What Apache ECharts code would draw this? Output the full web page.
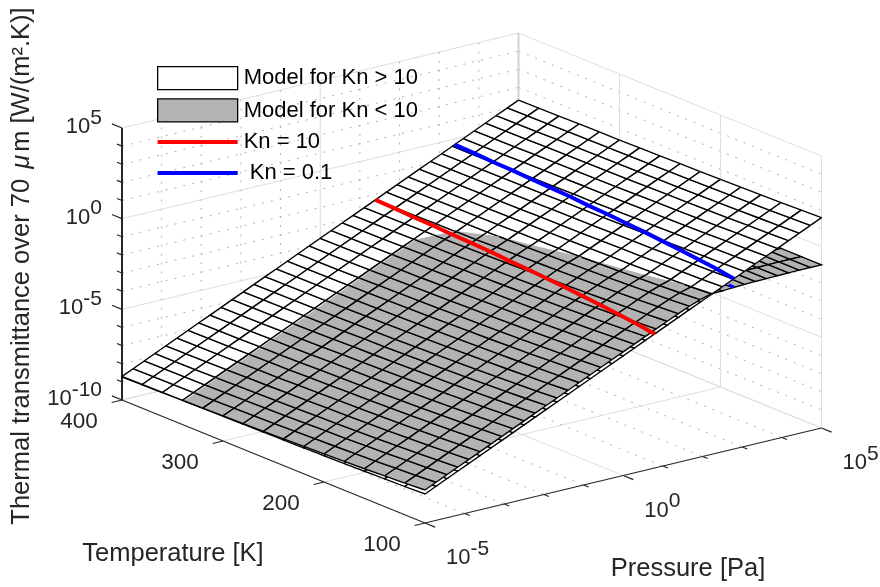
<!DOCTYPE html>
<html><head><meta charset="utf-8">
<style>html,body{margin:0;padding:0;background:#fff}#c{width:880px;height:587px}</style>
<script src="https://cdn.jsdelivr.net/npm/echarts@6/dist/echarts.min.js"></script>
</head><body><div id="c"></div>
<script>
// ---------- data ----------
const temperatures=[400,380,360,340,320,300,280,260,240,220,200,180,160,140,120,100];
const logPressure=[-5,-4.72,-4.44,-4.17,-3.89,-3.61,-3.33,-3.06,-2.78,-2.5,-2.22,-1.94,-1.67,-1.39,-1.11,-.83,-.56,-.28,0,.28,.56,.83,1.11,1.39,1.67,1.94,2.22,2.5,2.78,3.06,3.33,3.61,3.89,4.17,4.44,4.72,5];
// log10 of transmittance of the upper (Kn > 10) surface: one row per temperature, one column per pressure
const whiteLogZ=[
[-8.7,-8.42,-8.14,-7.87,-7.59,-7.31,-7.03,-6.76,-6.48,-6.2,-5.92,-5.64,-5.37,-5.09,-4.81,-4.53,-4.26,-3.98,-3.7,-3.42,-3.14,-2.87,-2.59,-2.31,-2.03,-1.76,-1.48,-1.2,-.92,-.64,-.37,-.09,.19,.47,.74,1.02,1.3],
[-8.69,-8.41,-8.13,-7.86,-7.58,-7.3,-7.02,-6.75,-6.47,-6.19,-5.91,-5.63,-5.36,-5.08,-4.8,-4.52,-4.25,-3.97,-3.69,-3.41,-3.13,-2.86,-2.58,-2.3,-2.02,-1.75,-1.47,-1.19,-.91,-.63,-.36,-.08,.2,.48,.75,1.03,1.31],
[-8.68,-8.4,-8.12,-7.85,-7.57,-7.29,-7.01,-6.74,-6.46,-6.18,-5.9,-5.62,-5.35,-5.07,-4.79,-4.51,-4.24,-3.96,-3.68,-3.4,-3.12,-2.85,-2.57,-2.29,-2.01,-1.74,-1.46,-1.18,-.9,-.62,-.35,-.07,.21,.49,.76,1.04,1.32],
[-8.66,-8.38,-8.1,-7.83,-7.55,-7.27,-6.99,-6.72,-6.44,-6.16,-5.88,-5.6,-5.33,-5.05,-4.77,-4.49,-4.22,-3.94,-3.66,-3.38,-3.1,-2.83,-2.55,-2.27,-1.99,-1.72,-1.44,-1.16,-.88,-.6,-.33,-.05,.23,.51,.78,1.06,1.34],
[-8.65,-8.37,-8.09,-7.82,-7.54,-7.26,-6.98,-6.71,-6.43,-6.15,-5.87,-5.59,-5.32,-5.04,-4.76,-4.48,-4.21,-3.93,-3.65,-3.37,-3.09,-2.82,-2.54,-2.26,-1.98,-1.71,-1.43,-1.15,-.87,-.59,-.32,-.04,.24,.52,.79,1.07,1.35],
[-8.64,-8.36,-8.08,-7.81,-7.53,-7.25,-6.97,-6.7,-6.42,-6.14,-5.86,-5.58,-5.31,-5.03,-4.75,-4.47,-4.2,-3.92,-3.64,-3.36,-3.08,-2.81,-2.53,-2.25,-1.97,-1.7,-1.42,-1.14,-.86,-.58,-.31,-.03,.25,.53,.8,1.08,1.36],
[-8.62,-8.34,-8.06,-7.79,-7.51,-7.23,-6.95,-6.68,-6.4,-6.12,-5.84,-5.56,-5.29,-5.01,-4.73,-4.45,-4.18,-3.9,-3.62,-3.34,-3.06,-2.79,-2.51,-2.23,-1.95,-1.68,-1.4,-1.12,-.84,-.56,-.29,-.01,.27,.55,.82,1.1,1.38],
[-8.61,-8.33,-8.05,-7.78,-7.5,-7.22,-6.94,-6.67,-6.39,-6.11,-5.83,-5.55,-5.28,-5,-4.72,-4.44,-4.17,-3.89,-3.61,-3.33,-3.05,-2.78,-2.5,-2.22,-1.94,-1.67,-1.39,-1.11,-.83,-.55,-.28,0,.28,.56,.83,1.11,1.39],
[-8.59,-8.31,-8.03,-7.76,-7.48,-7.2,-6.92,-6.65,-6.37,-6.09,-5.81,-5.53,-5.26,-4.98,-4.7,-4.42,-4.15,-3.87,-3.59,-3.31,-3.03,-2.76,-2.48,-2.2,-1.92,-1.65,-1.37,-1.09,-.81,-.53,-.26,.02,.3,.58,.85,1.13,1.41],
[-8.57,-8.29,-8.01,-7.74,-7.46,-7.18,-6.9,-6.63,-6.35,-6.07,-5.79,-5.51,-5.24,-4.96,-4.68,-4.4,-4.13,-3.85,-3.57,-3.29,-3.01,-2.74,-2.46,-2.18,-1.9,-1.63,-1.35,-1.07,-.79,-.51,-.24,.04,.32,.6,.87,1.15,1.43],
[-8.55,-8.27,-7.99,-7.72,-7.44,-7.16,-6.88,-6.61,-6.33,-6.05,-5.77,-5.49,-5.22,-4.94,-4.66,-4.38,-4.11,-3.83,-3.55,-3.27,-2.99,-2.72,-2.44,-2.16,-1.88,-1.61,-1.33,-1.05,-.77,-.49,-.22,.06,.34,.62,.89,1.17,1.45],
[-8.53,-8.25,-7.97,-7.7,-7.42,-7.14,-6.86,-6.59,-6.31,-6.03,-5.75,-5.47,-5.2,-4.92,-4.64,-4.36,-4.09,-3.81,-3.53,-3.25,-2.97,-2.7,-2.42,-2.14,-1.86,-1.59,-1.31,-1.03,-.75,-.47,-.2,.08,.36,.64,.91,1.19,1.47],
[-8.5,-8.22,-7.94,-7.67,-7.39,-7.11,-6.83,-6.56,-6.28,-6,-5.72,-5.44,-5.17,-4.89,-4.61,-4.33,-4.06,-3.78,-3.5,-3.22,-2.94,-2.67,-2.39,-2.11,-1.83,-1.56,-1.28,-1,-.72,-.44,-.17,.11,.39,.67,.94,1.22,1.5],
[-8.47,-8.19,-7.91,-7.64,-7.36,-7.08,-6.8,-6.53,-6.25,-5.97,-5.69,-5.41,-5.14,-4.86,-4.58,-4.3,-4.03,-3.75,-3.47,-3.19,-2.91,-2.64,-2.36,-2.08,-1.8,-1.53,-1.25,-.97,-.69,-.41,-.14,.14,.42,.7,.97,1.25,1.53],
[-8.44,-8.16,-7.88,-7.61,-7.33,-7.05,-6.77,-6.5,-6.22,-5.94,-5.66,-5.38,-5.11,-4.83,-4.55,-4.27,-4,-3.72,-3.44,-3.16,-2.88,-2.61,-2.33,-2.05,-1.77,-1.5,-1.22,-.94,-.66,-.38,-.11,.17,.45,.73,1,1.28,1.56],
[-8.4,-8.12,-7.84,-7.57,-7.29,-7.01,-6.73,-6.46,-6.18,-5.9,-5.62,-5.34,-5.07,-4.79,-4.51,-4.23,-3.96,-3.68,-3.4,-3.12,-2.84,-2.57,-2.29,-2.01,-1.73,-1.46,-1.18,-.9,-.62,-.34,-.07,.21,.49,.77,1.04,1.32,1.6]];
// lower model minus upper model, in decades. Below 10^1 Pa the two surfaces run parallel: one value per temperature.
const grayLift=[-.03,-.02,-.01,-.001,.011,.023,.035,.048,.063,.078,.095,.115,.135,.16,.19,.22];
// from 10^1 Pa upward: one row per temperature, one column per pressure in highPressure
const highPressure=[1.11,1.39,1.67,1.94,2.22,2.5,2.78,3.06,3.33,3.61,3.89,4.17,4.44,4.72,5];
const grayGapHigh=[
[-.035,-.04,-.06,-.11,-.21,-.48,-.72,-.425,-.675,-.94,-1.21,-1.48,-1.74,-2.02,-2.3],
[-.025,-.03,-.05,-.1,-.2,-.47,-.71,-.435,-.685,-.95,-1.22,-1.49,-1.75,-2.03,-2.31],
[-.015,-.02,-.04,-.09,-.19,-.46,-.7,-.445,-.695,-.96,-1.23,-1.5,-1.76,-2.04,-2.32],
[-.006,-.011,-.031,-.081,-.181,-.451,-.691,-.465,-.715,-.98,-1.25,-1.52,-1.78,-2.06,-2.34],
[.006,.001,-.019,-.069,-.169,-.439,-.679,-.475,-.725,-.99,-1.26,-1.53,-1.79,-2.07,-2.35],
[.018,.013,-.007,-.057,-.157,-.427,-.667,-.485,-.735,-1,-1.27,-1.54,-1.8,-2.08,-2.36],
[.03,.025,.005,-.045,-.145,-.415,-.655,-.505,-.755,-1.02,-1.29,-1.56,-1.82,-2.1,-2.38],
[.043,.038,.018,-.032,-.132,-.402,-.642,-.515,-.765,-1.03,-1.3,-1.57,-1.83,-2.11,-2.39],
[.058,.053,.033,-.017,-.117,-.387,-.627,-.535,-.785,-1.05,-1.32,-1.59,-1.85,-2.13,-2.41],
[.073,.068,.048,-.002,-.102,-.372,-.612,-.555,-.805,-1.07,-1.34,-1.61,-1.87,-2.15,-2.43],
[.09,.085,.065,.015,-.085,-.355,-.595,-.575,-.825,-1.09,-1.36,-1.63,-1.89,-2.17,-2.45],
[.11,.105,.085,.035,-.065,-.335,-.575,-.595,-.845,-1.11,-1.38,-1.65,-1.91,-2.19,-2.47],
[.13,.125,.105,.055,-.045,-.315,-.555,-.625,-.875,-1.14,-1.41,-1.68,-1.94,-2.22,-2.5],
[.155,.15,.13,.08,-.02,-.29,-.53,-.655,-.905,-1.17,-1.44,-1.71,-1.97,-2.25,-2.53],
[.185,.18,.16,.11,.01,-.26,-.5,-.685,-.935,-1.2,-1.47,-1.74,-2,-2.28,-2.56],
[.215,.21,.19,.14,.04,-.23,-.47,-.725,-.975,-1.24,-1.51,-1.78,-2.04,-2.32,-2.6]];
const kn10LogP=[1.39,1.37,1.34,1.32,1.29,1.27,1.24,1.20,1.17,1.13,1.09,1.04,.99,.93,.87,.79];
const kn10LogZ=[-2.31,-2.32,-2.34,-2.34,-2.36,-2.37,-2.38,-2.41,-2.42,-2.44,-2.46,-2.49,-2.51,-2.54,-2.57,-2.61];
const kn01LogP=[3.39,3.37,3.34,3.32,3.29,3.27,3.24,3.20,3.17,3.13,3.09,3.04,2.99,2.93,2.87,2.79];
const kn01LogZ=[-.31,-.32,-.34,-.34,-.36,-.37,-.38,-.41,-.42,-.44,-.46,-.49,-.51,-.54,-.57,-.61];
// short piece of the Kn = 0.1 line seen on the lower surface, past the upper surface's edge
const kn01TailT=[106,100];
const kn01TailLogP=[2.81,2.79];
const kn01TailLogZ=[-1.09,-1.07];
const zMajor=[-10,-5,0,5];
const zDecades=[-9,-8,-7,-6,-4,-3,-2,-1,1,2,3,4];
const pMajor=[-5,0,5];
const pDecades=[-4,-3,-2,-1,1,2,3,4];
const tMajor=[400,300,200,100];
const LEGEND=['Model for Kn > 10','Model for Kn < 10','Kn = 10',' Kn = 0.1'];

// ---------- orthographic view of the box ----------
const view={ox:122,oy:400,px:396.5,py:-95,tx:303,ty:123,zh:272};
function project(lp,T,lz){
  const u=(lp+5)/10,v=(400-T)/300,w=(lz+10)/15;
  return [view.ox+u*view.px+v*view.tx, view.oy+u*view.py+v*view.ty-w*view.zh];
}
// ---------- frame: walls, floor, ticks ----------
const segs=[];
function seg(a,b,k){segs.push([a[0],a[1],b[0],b[1],k]);}
const G=0,D=1,A=2,Z=3,C=4;
zDecades.forEach(z=>{seg(project(-5,400,z),project(5,400,z),D);seg(project(5,400,z),project(5,100,z),D);});
pDecades.forEach(p=>{seg(project(p,400,-10),project(p,400,5),D);seg(project(p,400,-10),project(p,100,-10),D);});
zMajor.forEach(z=>{seg(project(-5,400,z),project(5,400,z),G);seg(project(5,400,z),project(5,100,z),G);});
pMajor.forEach(p=>{seg(project(p,400,-10),project(p,400,5),p===5?C:G);if(p!==-5)seg(project(p,400,-10),project(p,100,-10),G);});
tMajor.forEach(t=>{if(t!==400)seg(project(5,t,-10),project(5,t,5),G);if(t!==100)seg(project(-5,t,-10),project(5,t,-10),G);});
seg(project(-5,400,-10),project(-5,400,5),Z);
seg(project(-5,400,-10),project(-5,100,-10),A);
seg(project(-5,100,-10),project(5,100,-10),A);
zMajor.forEach(z=>seg(project(-5,400,z),project(-5,410,z),A));
zDecades.forEach(z=>seg(project(-5,400,z),project(-5,405,z),A));
tMajor.forEach(t=>seg(project(-5,t,-10),project(-5.26,t,-10),A));
pMajor.forEach(p=>seg(project(p,100,-10),project(p,90,-10),A));
pDecades.forEach(p=>seg(project(p,100,-10),project(p,95,-10),A));
const segStyle=[
 {stroke:'#dedede',lineWidth:1},
 {stroke:'#b0b0b0',lineWidth:1,lineDash:[2,7]},
 {stroke:'#262626',lineWidth:1.2},
 {stroke:'#262626',lineWidth:2},
 {stroke:'#d2d2d2',lineWidth:2}];
// ---------- surface cells ----------
const cells=[];
for(let i=0;i<temperatures.length-1;i++)for(let j=0;j<logPressure.length-1;j++)cells.push([i,j]);
const firstHigh=logPressure.indexOf(highPressure[0]);
function gap(i,j){return j<firstHigh?grayLift[i]:grayGapHigh[i][j-firstHigh];}
function surfZ(kind,i,j){return kind==='gray'?whiteLogZ[i][j]+gap(i,j):whiteLogZ[i][j];}
function corner(kind,i,j){return project(logPressure[j],temperatures[i],surfZ(kind,i,j));}
const FILL={white:'#ffffff',gray:'#b3b3b3'};
const MESH={stroke:'#000',lineWidth:1.35};
function cellCorners(i,j){return [[i,j],[i,j+1],[i+1,j+1],[i+1,j]];}
function lowerItem(kind){
  return function(params,api){
    const i=api.value(0),j=api.value(1);
    const ix=cellCorners(i,j);
    const ds=ix.map(c=>gap(c[0],c[1]));
    const under=kind==='white'?ds.some(d=>d>0):ds.some(d=>d<0);
    if(!under)return null;
    const pts=ix.map(c=>api.coord(corner(kind,c[0],c[1])));
    return {type:'polygon',shape:{points:pts},style:{fill:FILL[kind],stroke:'#000',lineWidth:1.35},silent:true};
  };
}
function upperItem(kind){
  const sign=kind==='gray'?1:-1;
  return function(params,api){
    const i=api.value(0),j=api.value(1);
    const ix=cellCorners(i,j);
    const ds=ix.map(c=>sign*gap(c[0],c[1]));
    if(ds.every(d=>d<=0))return null;
    const pts=ix.map(c=>api.coord(corner(kind,c[0],c[1])));
    const poly=[],children=[];
    for(let k=0;k<4;k++){
      const n=(k+1)%4,a=pts[k],b=pts[n],da=ds[k],db=ds[n];
      if(da>0)poly.push(a);
      let p=a,q=b,draw=da>0||db>0;
      if((da>0)!==(db>0)){
        const t=da/(da-db),m=[a[0]+t*(b[0]-a[0]),a[1]+t*(b[1]-a[1])];
        poly.push(m);
        if(da>0)q=m;else p=m;
      }
      if(draw)children.push({type:'line',shape:{x1:p[0],y1:p[1],x2:q[0],y2:q[1]},style:MESH,silent:true});
    }
    children.unshift({type:'polygon',shape:{points:poly},style:{fill:FILL[kind]},silent:true});
    return {type:'group',children:children};
  };
}
// ---------- text ----------
const FONT='"Liberation Sans",Arial,sans-serif';
const TXT='#262626';
const powRich={a:{fontSize:22,height:22,lineHeight:30,verticalAlign:'bottom',fontFamily:FONT,fill:TXT},
               b:{fontSize:21,height:20,lineHeight:30,verticalAlign:'top',fontFamily:FONT,fill:TXT}};
const texts=[];
zMajor.forEach(z=>{const q=project(-5,400,z);texts.push({t:'{a|10}{b|'+z+'}',x:q[0]-20,y:q[1]-5,align:'right',rich:powRich});});
tMajor.forEach(t=>{const q=project(-5,t,-10);texts.push({t:String(t),x:q[0]-43,y:q[1]+22,align:'center',size:22.5});});
pMajor.forEach(p=>{const q=project(p,100,-10);texts.push({t:'{a|10}{b|'+p+'}',x:q[0]+21,y:q[1]+31,align:'left',rich:powRich});});
texts.push({t:'Temperature [K]',x:173,y:554,align:'center',size:25.5});
texts.push({t:'Pressure [Pa]',x:688,y:569,align:'center',size:25.5});
texts.push({t:'Thermal transmittance over 70 {i|\u03BC}m [W/(m\u00B2.K)]',x:22,y:266,align:'center',size:25.5,rot:Math.PI/2,
  rich:{i:{fontSize:25.5,fontStyle:'italic',fontFamily:FONT,fill:TXT,padding:[0,3,0,3]}}});

function knLine(name,ts,lp,lz,color,width){
  return {type:'line',name:name,coordinateSystem:'cartesian2d',z:8,symbol:'none',silent:true,animation:false,clip:false,
    lineStyle:{color:color,width:width,cap:'butt'},itemStyle:{color:color},
    data:ts.map((t,i)=>project(lp[i],t,lz[i]))};
}
function surf(name,kind,render,z){
  return {type:'custom',name:name,coordinateSystem:'cartesian2d',z:z,silent:true,animation:false,clip:false,
    itemStyle:{color:FILL[kind],borderColor:'#000',borderWidth:1.2},renderItem:render,data:cells,encode:{x:0,y:1}};
}
const LINE_ICON='path://M0 0L0.01 0L0 0.01ZM0 9.5H80V13.5H0ZM80 23L79.99 23L80 22.99Z';
const chart=echarts.init(document.getElementById('c'),null,{renderer:'canvas'});
chart.setOption({
  animation:false,backgroundColor:'#fff',
  grid:{left:0,right:0,top:0,bottom:0},
  xAxis:{type:'value',min:0,max:880,show:false},
  yAxis:{type:'value',min:0,max:587,inverse:true,show:false},
  tooltip:{show:false},
  legend:{left:157,top:66,orient:'vertical',padding:0,itemWidth:80,itemHeight:23,itemGap:8,selectedMode:false,z:20,
    textStyle:{fontSize:22,color:'#000',fontFamily:FONT,padding:[0,0,0,1]},
    data:[
     {name:LEGEND[0],icon:'rect',itemStyle:{color:'#fff',borderColor:'#000',borderWidth:1.3}},
     {name:LEGEND[1],icon:'rect',itemStyle:{color:'#b3b3b3',borderColor:'#000',borderWidth:1.3}},
     {name:LEGEND[2],icon:LINE_ICON,itemStyle:{color:'#ff0000',borderWidth:0}},
     {name:LEGEND[3],icon:LINE_ICON,itemStyle:{color:'#0000ff',borderWidth:0}}]},
  series:[
    {type:'custom',name:'frame',coordinateSystem:'cartesian2d',z:1,silent:true,animation:false,clip:false,
     encode:{x:0,y:1},data:segs,
     renderItem:function(p,api){
       const a=api.coord([api.value(0),api.value(1)]),b=api.coord([api.value(2),api.value(3)]);
       return {type:'line',shape:{x1:a[0],y1:a[1],x2:b[0],y2:b[1]},style:segStyle[api.value(4)],silent:true};
     }},
    surf(LEGEND[0],'white',lowerItem('white'),2),
    surf(LEGEND[1],'gray',lowerItem('gray'),3),
    surf(LEGEND[0],'white',upperItem('white'),4),
    surf(LEGEND[1],'gray',upperItem('gray'),5),
    knLine(LEGEND[2],temperatures,kn10LogP,kn10LogZ,'#ff0000',4),
    knLine(LEGEND[3],temperatures,kn01LogP,kn01LogZ,'#0000ff',4),
    knLine(LEGEND[3],kn01TailT,kn01TailLogP,kn01TailLogZ,'#0000ff',3),
    {type:'custom',name:'labels',coordinateSystem:'cartesian2d',z:10,silent:true,animation:false,clip:false,
     encode:{x:1,y:2},data:texts.map((t,i)=>[i,t.x,t.y]),
     renderItem:function(p,api){
       const s=texts[api.value(0)],c=api.coord([api.value(1),api.value(2)]);
       return {type:'text',x:c[0],y:c[1],rotation:s.rot||0,silent:true,
         style:{text:s.t,rich:s.rich,fill:TXT,align:s.align,verticalAlign:'middle',
                font:(s.size||22)+'px '+FONT}};
     }}
  ]
});
</script></body></html>
